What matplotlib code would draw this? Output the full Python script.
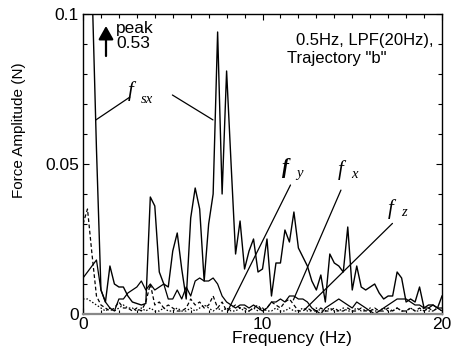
import numpy as np
import matplotlib
matplotlib.use("Agg")
import matplotlib.pyplot as plt
from matplotlib.ticker import MultipleLocator

plt.rcParams['font.family'] = ['Liberation Sans', 'DejaVu Sans']

# ---------------- data ----------------
freq = np.arange(81) * 0.25   # Hz, 0.25 Hz resolution

f_sx = [0.53, 0.30, 0.11, 0.055, 0.008, 0.004, 0.016, 0.010, 0.009, 0.009,
        0.006, 0.004, 0.0035, 0.003, 0.0035, 0.039, 0.036, 0.014, 0.010, 0.009,
        0.021, 0.027, 0.015, 0.005, 0.032, 0.042, 0.035, 0.011, 0.030, 0.040,
        0.094, 0.040, 0.081, 0.050, 0.020, 0.031, 0.015, 0.021, 0.025, 0.014,
        0.015, 0.025, 0.006, 0.017, 0.017, 0.028, 0.024, 0.034, 0.022, 0.019,
        0.016, 0.011, 0.008, 0.013, 0.004, 0.020, 0.017, 0.016, 0.014, 0.029,
        0.008, 0.016, 0.009, 0.008, 0.009, 0.010, 0.007, 0.005, 0.006, 0.006,
        0.014, 0.012, 0.004, 0.005, 0.004, 0.009, 0.002, 0.003, 0.003, 0.002,
        0.006]

f_x = [0.012, 0.014, 0.016, 0.018, 0.008, 0.004, 0.002, 0.001, 0.005, 0.005,
       0.007, 0.008, 0.009, 0.011, 0.008, 0.010, 0.008, 0.009, 0.010, 0.005,
       0.005, 0.008, 0.005, 0.009, 0.006, 0.011, 0.012, 0.011, 0.011, 0.012,
       0.010, 0.006, 0.004, 0.003, 0.002, 0.003, 0.003, 0.002, 0.003, 0.002,
       0.001, 0.002, 0.004, 0.004, 0.005, 0.004, 0.006, 0.006, 0.005, 0.005,
       0.004, 0.002, 0.001, 0.000, 0.002, 0.003, 0.004, 0.005, 0.004, 0.003,
       0.002, 0.004, 0.003, 0.002, 0.001, 0.000, 0.001, 0.002, 0.003, 0.004,
       0.005, 0.005, 0.005, 0.004, 0.003, 0.003, 0.002, 0.002, 0.003, 0.002,
       0.002]

f_y = [0.030, 0.035, 0.020, 0.006, 0.003, 0.002, 0.001, 0.002, 0.004, 0.002,
       0.002, 0.001, 0.002, 0.001, 0.004, 0.010, 0.003, 0.004, 0.002, 0.003,
       0.002, 0.001, 0.001, 0.002, 0.005, 0.003, 0.004, 0.002, 0.003, 0.006,
       0.002, 0.004, 0.001, 0.002, 0.003, 0.002, 0.002, 0.001, 0.002, 0.003,
       0.001, 0.002, 0.004, 0.003, 0.002, 0.004, 0.005, 0.003, 0.001, 0.001,
       0.002, 0.001, 0.001, 0.002, 0.001, 0.001, 0.002, 0.001, 0.001, 0.002,
       0.001, 0.001, 0.002, 0.001, 0.001, 0.002, 0.001, 0.001, 0.002, 0.001,
       0.002, 0.001, 0.001, 0.002, 0.001, 0.002, 0.001, 0.002, 0.001, 0.002,
       0.001]

f_z = [0.005, 0.005, 0.004, 0.003, 0.002, 0.001, 0.002, 0.001, 0.002, 0.003,
       0.002, 0.002, 0.001, 0.002, 0.001, 0.002, 0.001, 0.001, 0.002, 0.001,
       0.001, 0.002, 0.001, 0.001, 0.002, 0.001, 0.002, 0.003, 0.002, 0.001,
       0.002, 0.001, 0.002, 0.001, 0.001, 0.002, 0.001, 0.001, 0.002, 0.001,
       0.002, 0.001, 0.001, 0.002, 0.001, 0.001, 0.002, 0.001, 0.001, 0.002,
       0.001, 0.001, 0.002, 0.001, 0.001, 0.002, 0.001, 0.001, 0.002, 0.001,
       0.001, 0.002, 0.001, 0.001, 0.002, 0.001, 0.001, 0.002, 0.001, 0.001,
       0.002, 0.001, 0.001, 0.002, 0.001, 0.001, 0.002, 0.001, 0.001, 0.002,
       0.001]

x_ticks = [0, 10, 20]
x_ticklabels = ['0', '10', '20']
y_ticks = [0, 0.05, 0.1]
y_ticklabels = ['0', '0.05', '0.1']

# ---------------- figure ----------------
W, H = 459, 348
fig = plt.figure(figsize=(W / 100, H / 100), dpi=100)
ax = fig.add_axes([83 / W, 34 / H, 359 / W, 300 / H])

def P(px, py):
    return (px / W, 1 - py / H)

ax.plot(freq, f_sx, color='black', lw=1.0)
ax.plot(freq, f_x, color='black', lw=0.9)
ax.plot(freq, f_y, color='black', lw=0.9, linestyle=(0, (3, 2)))
ax.plot(freq, f_z, color='black', lw=0.9, linestyle=(0, (1.2, 1.5)))

ax.set_xlim(0, 20)
ax.set_ylim(0, 0.1)
ax.set_xticks(x_ticks)
ax.set_xticklabels(x_ticklabels)
ax.set_yticks(y_ticks)
ax.set_yticklabels(y_ticklabels)
ax.xaxis.set_minor_locator(MultipleLocator(1))
ax.yaxis.set_minor_locator(MultipleLocator(0.01))
ax.tick_params(which='both', direction='in', top=True, right=True,
               width=0.8, color='black')
ax.tick_params(which='major', length=4.5)
ax.tick_params(which='minor', length=3)
ax.tick_params(axis='x', which='major', labelsize=12.5, pad=2)
ax.tick_params(axis='y', which='major', labelsize=12.5, pad=3)
for s in ['left', 'right', 'top']:
    ax.spines[s].set_linewidth(1.0)
ax.spines['bottom'].set_color('#888888')
ax.spines['bottom'].set_linewidth(1.6)

# axis labels
fig.text(*P(292, 338), 'Frequency (Hz)', ha='center', va='center', fontsize=12.5)
fig.text(*P(19, 130), 'Force Amplitude (N)', ha='center', va='center',
         rotation=90, fontsize=11)

# peak arrow + text
ax.annotate('', xy=P(106, 26), xytext=P(106, 56),
            xycoords='figure fraction', textcoords='figure fraction',
            arrowprops=dict(arrowstyle='-|>,head_length=0.8,head_width=0.45',
                            mutation_scale=10, lw=1.6, color='black',
                            shrinkA=0, shrinkB=0))
fig.text(*P(116, 29), 'peak', ha='left', va='center', fontsize=12.5)
fig.text(*P(116, 44), '0.53', ha='left', va='center', fontsize=12.5)

# condition text
fig.text(*P(433, 40), '0.5Hz, LPF(20Hz),', ha='right', va='center', fontsize=12)
fig.text(*P(287, 59), 'Trajectory "b"', ha='left', va='center', fontsize=12)

# series labels
serif = ['Liberation Serif', 'DejaVu Serif']
def flabel(fx, fy, sx, sy, sub, bold=False):
    fig.text(*P(fx, fy), 'f', ha='center', va='center', fontsize=15,
             family=serif, style='italic', weight='bold' if bold else 'normal')
    fig.text(*P(sx, sy), sub, ha='center', va='center', fontsize=10.5,
             family=serif, style='italic')

flabel(131, 91, 147, 99, 'sx')
flabel(286, 168, 299, 174, 'y', bold=True)
flabel(341, 170, 354, 175, 'x')
flabel(391, 209, 404, 213, 'z')

# pointer lines (data coordinates)
def pointer(x0, y0, x1, y1):
    ax.annotate('', xy=(x1, y1), xytext=(x0, y0),
                arrowprops=dict(arrowstyle='-', lw=0.9, color='black',
                                shrinkA=0, shrinkB=0))

pointer(2.61, 0.0723, 0.72, 0.0647)
pointer(4.98, 0.0730, 7.24, 0.0647)
pointer(11.56, 0.0430, 8.06, 0.0010)
pointer(14.37, 0.0413, 11.72, 0.0047)
pointer(17.24, 0.0302, 12.39, 0.0017)

fig.savefig('out.png', dpi=100)
